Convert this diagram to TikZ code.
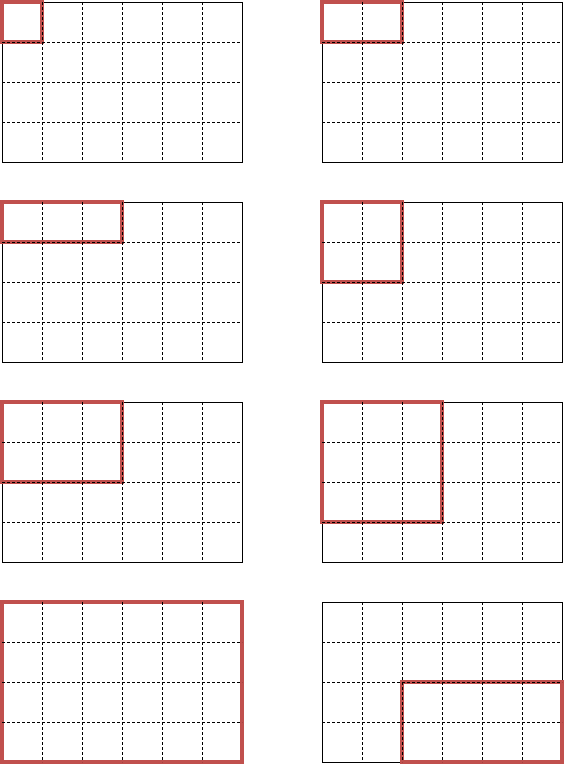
\documentclass[tikz,border=0pt]{standalone}
\definecolor{hl}{HTML}{C0504D}
\begin{document}
\begin{tikzpicture}[x=1pt,y=-1pt,
  gridline/.style={black,line width=0.6pt,dash pattern=on 3pt off 2pt},
  frame/.style={black,line width=0.9pt},
  hlbox/.style={draw=hl,line width=4pt}]
\useasboundingbox (0,0) rectangle (564,766);
\foreach \gx/\gy/\cx/\cy/\w/\h in {2/2/0/0/1/1, 322/2/0/0/2/1, 2/202/0/0/3/1, 322/202/0/0/2/2, 2/402/0/0/3/2, 322/402/0/0/3/3, 2/602/0/0/6/4, 322/602/2/2/4/2} {
  \draw[frame] (\gx,\gy) rectangle +(240,160);
  \draw[hlbox] (\gx+40*\cx,\gy+40*\cy) rectangle +(40*\w,40*\h);
  \foreach \k in {1,...,5} {
    \draw[gridline] (\gx+40*\k,\gy) -- +(0,160);
  }
  \foreach \k in {1,...,3} {
    \draw[gridline] (\gx,\gy+40*\k) -- +(240,0);
  }
}
\end{tikzpicture}
\end{document}
